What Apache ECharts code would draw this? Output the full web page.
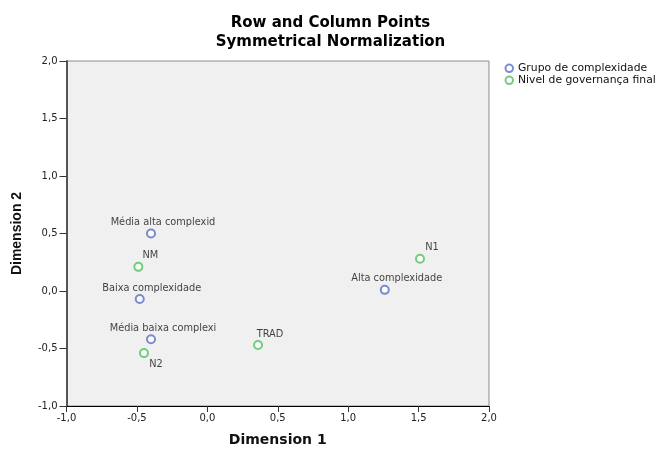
<!DOCTYPE html>
<html>
<head>
<meta charset="utf-8">
<script src="https://cdn.jsdelivr.net/npm/echarts@6/dist/echarts.min.js"></script>
<style>html,body{margin:0;padding:0;background:#fff;}#c{width:661px;height:452px;}</style>
</head>
<body>
<div id="c"></div>
<script>
const titleText = 'Row and Column Points';
const subtitleText = 'Symmetrical Normalization';
const xName = 'Dimension 1';
const yName = 'Dimension 2';
const seriesNames = ['Grupo de complexidade', 'Nivel de governança final'];

const groupLabels = ['Alta complexidade', 'Baixa complexidade', 'Média alta complexid', 'Média baixa complexi'];
const groupX = [1.26, -0.48, -0.40, -0.40];
const groupY = [0.01, -0.07, 0.50, -0.42];

const govLabels = ['N1', 'N2', 'NM', 'TRAD'];
const govX = [1.51, -0.45, -0.49, 0.36];
const govY = [0.28, -0.54, 0.21, -0.47];
const govBelow = ['N2'];

const FONT = 'DejaVu Sans';
const fmt = v => v.toFixed(1).replace('.', ',');

function build(labels, xs, ys, below) {
  return labels.map((n, i) => {
    const d = { name: n, value: [xs[i], ys[i]] };
    if (below && below.indexOf(n) >= 0) {
      d.label = { position: 'bottom', distance: 1 };
    }
    return d;
  });
}

const chart = echarts.init(document.getElementById('c'), null, { renderer: 'canvas' });
const labelCfg = {
  show: true, position: 'top', distance: 1, offset: [12, 0],
  formatter: p => p.name, fontFamily: FONT, fontSize: 9.8, color: '#111'
};
chart.setOption({
  animation: false,
  backgroundColor: '#fff',
  title: [
    { text: titleText, left: 'center', top: 10.4, textStyle: { fontFamily: FONT, fontWeight: 'bold', fontSize: 15, color: '#000' } },
    { text: subtitleText, left: 'center', top: 30, textStyle: { fontFamily: FONT, fontWeight: 'bold', fontSize: 15, color: '#000' } }
  ],
  legend: {
    orient: 'vertical', left: 504.5, top: 62.3, padding: 0, itemWidth: 7.5, itemHeight: 7.5, itemGap: 0,
    textStyle: { fontFamily: FONT, fontSize: 10.8, color: '#111', lineHeight: 12 },
    itemStyle: { borderWidth: 1.3 },
    data: seriesNames
  },
  grid: {
    left: 66.5, right: 172, top: 61, bottom: 39, show: true,
    backgroundColor: '#f0f0f0', borderColor: '#8c8c8c', borderWidth: 1
  },
  xAxis: {
    type: 'value', min: -1, max: 2, interval: 0.5,
    name: xName, nameLocation: 'middle', nameGap: 27,
    nameTextStyle: { fontFamily: FONT, fontWeight: 'bold', fontSize: 14, color: '#111' },
    axisLine: { show: true, onZero: false, lineStyle: { color: '#000', width: 1 } },
    axisTick: { show: true, length: 6, lineStyle: { color: '#333' } },
    axisLabel: { formatter: fmt, fontFamily: FONT, fontSize: 10, color: '#222', margin: 7 },
    splitLine: { show: false }
  },
  yAxis: {
    type: 'value', min: -1, max: 2, interval: 0.5,
    name: yName, nameLocation: 'middle', nameGap: 42, nameRotate: 90,
    nameTextStyle: { fontFamily: 'Liberation Sans', fontWeight: 'bold', fontSize: 14, color: '#111' },
    axisLine: { show: true, onZero: false, lineStyle: { color: '#555', width: 2 } },
    axisTick: { show: true, length: 7, lineStyle: { color: '#333' } },
    axisLabel: { formatter: fmt, fontFamily: FONT, fontSize: 10, color: '#222', margin: 9 },
    splitLine: { show: false }
  },
  series: [
    {
      name: seriesNames[0], type: 'scatter', symbol: 'emptyCircle', symbolSize: 8,
      itemStyle: { color: '#5b6fc4', borderColor: '#5b6fc4', borderWidth: 1.5 },
      label: labelCfg,
      data: build(groupLabels, groupX, groupY)
    },
    {
      name: seriesNames[1], type: 'scatter', symbol: 'emptyCircle', symbolSize: 8,
      itemStyle: { color: '#4cc45c', borderColor: '#4cc45c', borderWidth: 1.5 },
      label: labelCfg,
      data: build(govLabels, govX, govY, govBelow)
    }
  ]
});
</script>
</body>
</html>
